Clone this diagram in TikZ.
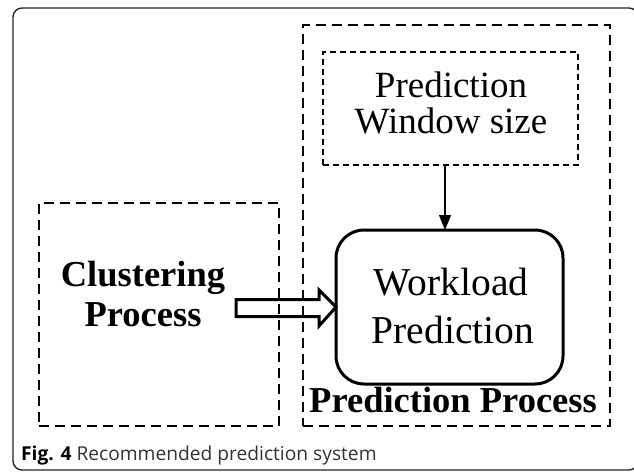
\documentclass[tikz,border=0pt]{standalone}
\usepackage{fontspec}
\setmainfont{Liberation Serif}
\newfontfamily\capfont{Open Sans}
\usetikzlibrary{arrows.meta}
\tikzset{
  bigdash/.style={draw=black, line width=2.4pt, dash pattern=on 10pt off 6pt},
  thindash/.style={draw=black, line width=1.2pt, dash pattern=on 6pt off 4pt},
  boxnode/.style={rectangle, inner sep=0pt, outer sep=0pt},
  wltxt/.style={font=\fontsize{39.5}{47}\selectfont, anchor=base, inner sep=0pt},
  wintxt/.style={font=\fontsize{37}{36}\selectfont, anchor=base, inner sep=0pt},
  boldtxt/.style={font=\fontsize{36.5}{40}\selectfont\bfseries, anchor=base, inner sep=0pt},
}
\begin{document}
\begin{tikzpicture}[x=1pt,y=-1pt]
\useasboundingbox (0,0) rectangle (634,472);
\fill[white] (0,0) rectangle (634,472);
% outer frame
\draw[line width=1.4pt, draw=black!85, rounded corners=9pt] (13,8) rectangle (638,470);
% boxes
\node[boxnode, bigdash, minimum width=307pt, minimum height=401pt] (pp) at (456.5,225.5) {};
\node[boxnode, bigdash, minimum width=240pt, minimum height=223pt] (cl) at (159,314.5) {};
\node[boxnode, thindash, minimum width=255pt, minimum height=113pt] (win) at (450.5,108.5) {};
\node[boxnode, draw=black, line width=3pt, rounded corners=28pt, minimum width=227pt, minimum height=154pt] (wl) at (449.5,307) {};
% texts
\node[wintxt] (w1) at (451,97) {Prediction};
\node[wintxt] (w2) at (451,133) {Window size};
\node[wltxt] (l1) at (451,295) {Workload};
\node[wltxt] (l2) at (453,343) {Prediction};
\node[boldtxt] (c1) at (143,286) {Clustering};
\node[boldtxt] (c2) at (143,326) {Process};
\node[boldtxt] (pt) at (453,412) {Prediction Process};
% down arrow
\coordinate (a0) at (445,165);
\draw[line width=1.2pt, -{Triangle[length=15pt,width=12pt]}] (a0) -- (a0 |- wl.north);
% hollow arrow
\coordinate (h0) at (236,308);
\draw[line width=3pt, line join=miter] (h0) ++(0,-8.5) -- ++(83,0) -- ++(0,-9.5) -- (wl.west) -- ++(-17,19) -- ++(0,-9.5) -- ++(-83,0) -- cycle;
% caption
\node[anchor=base west, inner sep=0pt, font=\capfont\fontsize{19.2}{21}\selectfont] (cap) at (21,460) {\textbf{Fig. 4} \textcolor{black!80}{Recommended prediction system}};
\end{tikzpicture}
\end{document}
